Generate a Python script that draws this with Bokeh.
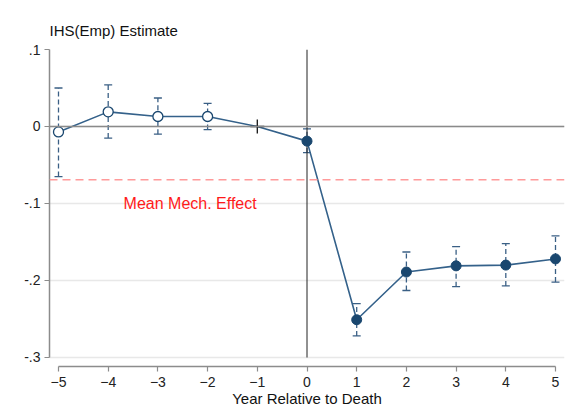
from bokeh.plotting import figure
from bokeh.models import (ColumnDataSource, Range1d, FixedTicker, Span, Whisker,
                          TeeHead, Label)
from bokeh.embed import file_html
from bokeh.resources import INLINE

# ---- data ----
years = [-5, -4, -3, -2, -1, 0, 1, 2, 3, 4, 5]
estimate = [-0.007, 0.019, 0.013, 0.013, 0.0, -0.019, -0.251, -0.189, -0.181, -0.180, -0.172]
ci_upper = [0.050, 0.054, 0.037, 0.030, None, -0.003, -0.230, -0.163, -0.156, -0.152, -0.142]
ci_lower = [-0.065, -0.015, -0.010, -0.004, None, -0.034, -0.272, -0.213, -0.208, -0.207, -0.202]
mean_mech_effect = -0.069
mean_label_text = "Mean Mech. Effect"
mean_label_pos = (-3.69, -0.1)

x_ticks = [-5, -4, -3, -2, -1, 0, 1, 2, 3, 4, 5]
y_ticks = [-0.3, -0.2, -0.1, 0.0, 0.1]
y_tick_labels = {-0.3: "-.3", -0.2: "-.2", -0.1: "-.1", 0.0: "0", 0.1: ".1"}

NAVY = "#1a476f"
LINE = "#34618a"
FONT = "Liberation Sans"

p = figure(width=575, height=419, output_backend="svg", toolbar_location=None,
           x_range=Range1d(-5.181, 5.181), y_range=Range1d(-0.3117, 0.1),
           min_border_left=49, min_border_right=11, min_border_top=49,
           min_border_bottom=53)
p.background_fill_color = "white"
p.border_fill_color = "white"
p.outline_line_color = None

p.title.text = "IHS(Emp) Estimate"
p.title.text_font = FONT
p.title.text_font_size = "15px"
p.title.text_font_style = "normal"
p.title.text_color = "#111111"
p.title.align = "left"
p.title.offset = 0
p.title.standoff = 22

# axes
p.xaxis.ticker = FixedTicker(ticks=x_ticks)
p.yaxis.ticker = FixedTicker(ticks=y_ticks)
p.yaxis.major_label_overrides = {float(k): v for k, v in y_tick_labels.items()}
p.xaxis.bounds = (min(x_ticks), max(x_ticks))
p.yaxis.bounds = (min(y_ticks), max(y_ticks))
for ax in (p.xaxis, p.yaxis):
    ax.axis_line_color = "#8c8c8c"
    ax.axis_line_width = 1.5
    ax.major_tick_line_color = "#8c8c8c"
    ax.major_tick_line_width = 1.2
    ax.major_tick_out = 5
    ax.major_tick_in = 0
    ax.minor_tick_line_color = None
    ax.major_label_text_font = FONT
    ax.major_label_text_font_size = "14px"
    ax.major_label_text_color = "#222222"
    ax.major_label_standoff = 4
p.xaxis.major_label_standoff = 5
p.xaxis.axis_label = "Year Relative to Death"
p.xaxis.axis_label_text_font = FONT
p.xaxis.axis_label_text_font_size = "15px"
p.xaxis.axis_label_text_font_style = "normal"
p.xaxis.axis_label_text_color = "#111111"
p.xaxis.axis_label_standoff = 0

p.xgrid.grid_line_color = None
p.ygrid.grid_line_color = "#e8e8e8"
p.ygrid.grid_line_width = 1.5

# reference lines
p.add_layout(Span(location=0, dimension="width", line_color="#8a8a8a", line_width=1.5))
p.add_layout(Span(location=mean_mech_effect, dimension="width", line_color="#ff9a9a",
                  line_width=1.5, line_dash="8 5"))
p.segment(x0=[0], y0=[min(y_ticks)], x1=[0], y1=[max(y_ticks)],
          line_color="#222222", line_width=1)

# confidence intervals
ci_idx = [i for i in range(len(years)) if ci_upper[i] is not None]
ci_src = ColumnDataSource(dict(base=[years[i] for i in ci_idx],
                               upper=[ci_upper[i] for i in ci_idx],
                               lower=[ci_lower[i] for i in ci_idx]))
wh = Whisker(source=ci_src, base="base", upper="upper", lower="lower",
             line_color="#3a5f85", line_width=1.3, line_dash="5 3",
             upper_head=TeeHead(size=8, line_color="#3a5f85", line_width=1.3),
             lower_head=TeeHead(size=8, line_color="#3a5f85", line_width=1.3))
p.add_layout(wh)

# connecting line
p.line(years, estimate, line_color=LINE, line_width=1.6)

# markers
pre = [i for i in range(len(years)) if years[i] < -1]
ref = [i for i in range(len(years)) if years[i] == -1]
post = [i for i in range(len(years)) if years[i] >= 0]
p.scatter([years[i] for i in pre], [estimate[i] for i in pre], marker="circle",
          size=10, fill_color="white", line_color=NAVY, line_width=1.3)
p.scatter([years[i] for i in ref], [estimate[i] for i in ref], marker="cross",
          size=14, line_color="#111111", line_width=1.3)
p.scatter([years[i] for i in post], [estimate[i] for i in post], marker="circle",
          size=10, fill_color=NAVY, line_color=NAVY)

p.add_layout(Label(x=mean_label_pos[0], y=mean_label_pos[1], text=mean_label_text,
                   text_font=FONT, text_font_size="16px", text_color="#ff1a1a",
                   text_baseline="middle", text_align="left"))

open("out.html", "w").write(file_html(p, INLINE))
